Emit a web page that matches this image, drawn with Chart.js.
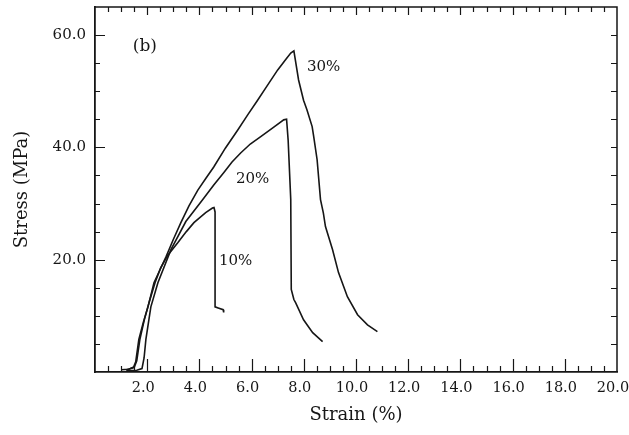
<!DOCTYPE html>
<html>
<head>
<meta charset="utf-8">
<script src="https://cdn.jsdelivr.net/npm/chart.js@4.4.0/dist/chart.umd.min.js"></script>
<style>
  html, body { margin: 0; padding: 0; background: #ffffff; }
  #wrap { width: 629px; height: 435px; }
</style>
</head>
<body>
<div id="wrap"><canvas id="c" width="629" height="435"></canvas></div>
<script>
// Tensile curves: strain (%) vs. stress (MPa) for three contents
const strain30 = [1.00, 1.30, 1.48, 1.56, 1.68, 1.85, 2.03, 2.26, 2.50, 2.72, 3.00, 3.29, 3.60, 3.94, 4.25, 4.55, 5.00, 5.47, 5.85, 6.23, 6.60, 7.00, 7.30, 7.50, 7.62, 7.80, 7.99, 8.12, 8.32, 8.38, 8.51, 8.64, 8.75, 8.83, 9.10, 9.33, 9.67, 10.06, 10.44, 10.82];
const stress30 = [0.4, 0.5, 0.9, 1.8, 5.8, 8.8, 11.6, 15.9, 18.3, 20.5, 23.6, 26.6, 29.6, 32.4, 34.5, 36.5, 39.9, 43.1, 45.8, 48.4, 51.0, 53.8, 55.6, 56.8, 57.2, 52.0, 48.4, 46.7, 43.7, 41.9, 37.8, 30.7, 28.3, 25.9, 21.8, 17.7, 13.4, 10.2, 8.4, 7.2];

const strain20 = [1.20, 1.60, 1.80, 1.88, 1.95, 2.14, 2.41, 2.91, 3.48, 4.13, 4.55, 4.93, 5.25, 5.58, 5.95, 6.35, 6.85, 7.23, 7.34, 7.40, 7.50, 7.52, 7.62, 7.69, 7.99, 8.34, 8.72];
const stress20 = [0.2, 0.3, 0.6, 2.5, 5.8, 11.6, 15.9, 21.8, 26.8, 30.7, 33.3, 35.5, 37.4, 39.0, 40.6, 41.9, 43.6, 44.9, 45.0, 41.3, 30.7, 14.7, 12.9, 12.3, 9.3, 7.0, 5.4];

const strain10 = [1.20, 1.50, 1.60, 1.72, 1.90, 2.08, 2.30, 2.52, 2.79, 3.17, 3.50, 3.79, 4.24, 4.50, 4.56, 4.60, 4.60, 4.72, 4.91, 4.93];
const stress10 = [0.4, 0.8, 2.0, 5.8, 9.5, 12.5, 15.9, 18.6, 20.8, 23.0, 25.0, 26.6, 28.4, 29.2, 29.3, 28.5, 11.6, 11.4, 11.1, 10.6];

// Axis ranges and tick steps
const xMin = 0, xMax = 20, xStep = 2, xMinorStep = 0.5;
const yMin = 0, yMax = 65, yStep = 20, yMinorStep = 5;

// Text placed inside the plot, positioned in data units
const noteText = ['(b)', '30%', '20%', '10%'];
const noteX = [1.91, 8.76, 6.04, 5.39];
const noteY = [58.0, 54.3, 34.4, 19.8];
const noteSize = [17, 15, 15, 15];

const SERIF = '"DejaVu Serif", "Liberation Serif", serif';
const INK = '#161616';

function toPoints(xs, ys) {
  return xs.map((v, i) => ({ x: v, y: ys[i] }));
}

function curve(xs, ys) {
  return {
    data: toPoints(xs, ys),
    showLine: true,
    borderColor: INK,
    borderWidth: 1.6,
    pointRadius: 0,
    tension: 0,
    fill: false
  };
}

function stepLabel(step) {
  return v => {
    const n = Number(v);
    if (n === 0 || Math.abs(n / step - Math.round(n / step)) > 1e-9) return '';
    return n.toFixed(1);
  };
}

// Closes the frame and draws the inward tick marks on all four sides
const frameTicks = {
  id: 'frameTicks',
  afterDraw(chart) {
    const { ctx, chartArea: a, scales: { x, y } } = chart;
    ctx.save();
    ctx.strokeStyle = INK;
    ctx.lineWidth = 1.5;
    ctx.beginPath();
    ctx.moveTo(a.left, a.top);
    ctx.lineTo(a.right, a.top);
    ctx.lineTo(a.right, a.bottom);
    ctx.stroke();

    ctx.lineWidth = 1.2;
    ctx.beginPath();
    for (let v = xMin + xMinorStep; v < xMax - 1e-9; v += xMinorStep) {
      const px = Math.round(x.getPixelForValue(v)) + 0.5;
      const major = Math.abs(v / xStep - Math.round(v / xStep)) < 1e-9;
      ctx.moveTo(px, a.bottom);
      ctx.lineTo(px, a.bottom - (major ? 13 : 6));
      ctx.moveTo(px, a.top);
      ctx.lineTo(px, a.top + (major ? 8 : 5));
    }
    for (let v = yMin + yMinorStep; v < yMax - 1e-9; v += yMinorStep) {
      const py = Math.round(y.getPixelForValue(v)) + 0.5;
      const major = v % yStep === 0;
      ctx.moveTo(a.left, py);
      ctx.lineTo(a.left + (major ? 10 : 5), py);
      ctx.moveTo(a.right, py);
      ctx.lineTo(a.right - 6, py);
    }
    ctx.stroke();

    ctx.fillStyle = INK;
    ctx.textAlign = 'center';
    ctx.textBaseline = 'middle';
    noteText.forEach((t, i) => {
      ctx.font = noteSize[i] + 'px ' + SERIF;
      ctx.fillText(t, x.getPixelForValue(noteX[i]), y.getPixelForValue(noteY[i]));
    });
    ctx.restore();
  }
};

new Chart(document.getElementById('c'), {
  type: 'scatter',
  data: {
    datasets: [
      curve(strain30, stress30),
      curve(strain20, stress20),
      curve(strain10, stress10)
    ]
  },
  options: {
    responsive: false,
    animation: false,
    devicePixelRatio: 1,
    layout: { padding: { top: 7, right: 12, left: 0, bottom: 0 } },
    plugins: { legend: { display: false }, tooltip: { enabled: false } },
    scales: {
      x: {
        type: 'linear',
        min: xMin,
        max: xMax,
        afterFit(s) { s.height = 63; s.paddingLeft = 0; s.paddingRight = 0; },
        grid: { display: false, drawTicks: false },
        border: { display: true, color: INK, width: 1.8 },
        ticks: {
          stepSize: xStep,
          padding: 8,
          labelOffset: -4,
          color: INK,
          maxRotation: 0,
          autoSkip: false,
          font: { family: SERIF, size: 14.5 },
          callback: stepLabel(xStep)
        },
        title: {
          display: true,
          text: 'Strain (%)',
          color: INK,
          font: { family: SERIF, size: 18 },
          padding: { top: 0, bottom: 9 }
        }
      },
      y: {
        type: 'linear',
        min: yMin,
        max: yMax,
        afterFit(s) { s.width = 95; s.paddingTop = 0; s.paddingBottom = 0; },
        grid: { display: false, drawTicks: false },
        border: { display: true, color: INK, width: 1.8 },
        ticks: {
          stepSize: yStep,
          padding: 9,
          color: INK,
          font: { family: SERIF, size: 15 },
          callback: stepLabel(yStep)
        },
        title: {
          display: true,
          text: 'Stress (MPa)',
          color: INK,
          font: { family: SERIF, size: 18 },
          padding: { top: 12, bottom: 0 }
        }
      }
    }
  },
  plugins: [frameTicks]
});
</script>
</body>
</html>
